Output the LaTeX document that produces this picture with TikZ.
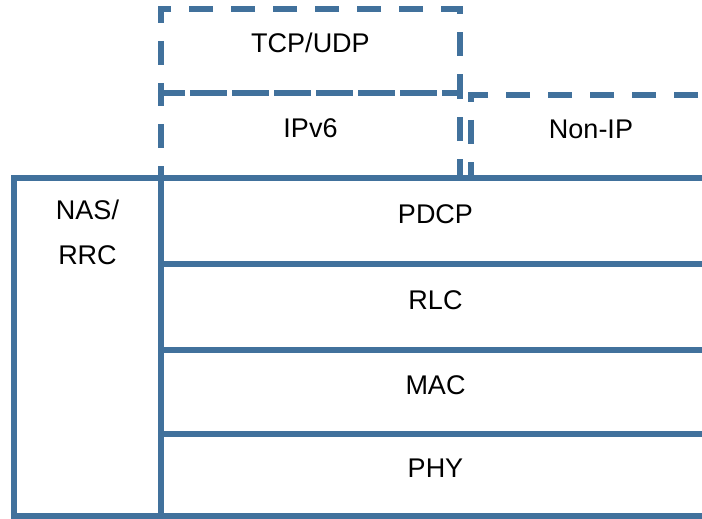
\documentclass[tikz,border=0pt]{standalone}
\usepackage{fontspec}
\setmainfont{Liberation Sans}
\usepackage{xcolor}
\usetikzlibrary{positioning}
\definecolor{layerblue}{RGB}{65,113,156}

\begin{document}
\begin{tikzpicture}[x=1pt, y=-1pt,
        layer/.style={draw=layerblue, line width=6pt, rectangle, inner sep=0pt, outer sep=0pt,
            anchor=north west, font=\fontsize{27}{32}\selectfont, text height=20pt, text depth=16pt},
        optlayer/.style={layer, dash pattern=on 24pt off 18pt},
        lbl/.style={inner sep=0pt, align=center, font=\fontsize{27}{45}\selectfont}]
    \useasboundingbox (0,0) rectangle (702,519);
    \clip (0,0) rectangle (702,519);
    \node[optlayer, minimum width=299pt, minimum height=84pt] (tcp) at (161,9) {TCP/UDP};
    \node[optlayer, minimum width=299pt, minimum height=85pt] (ipv6) at (161,93) {IPv6};
    \node[optlayer, minimum width=240pt, minimum height=83pt] (nonip) at (471,95) {Non-IP};
    \node[layer, minimum width=147pt, minimum height=338pt] (nas) at (14,178) {};
    \node[lbl, below=22pt of nas.north] (nastext) {NAS/\\RRC};
    \node[layer, minimum width=549pt, minimum height=86pt] (pdcp) at (161,178) {PDCP};
    \node[layer, minimum width=549pt, minimum height=86pt] (rlc) at (161,264) {RLC};
    \node[layer, minimum width=549pt, minimum height=84pt] (mac) at (161,350) {MAC};
    \node[layer, minimum width=549pt, minimum height=82pt] (phy) at (161,434) {PHY};
\end{tikzpicture}
\end{document}
